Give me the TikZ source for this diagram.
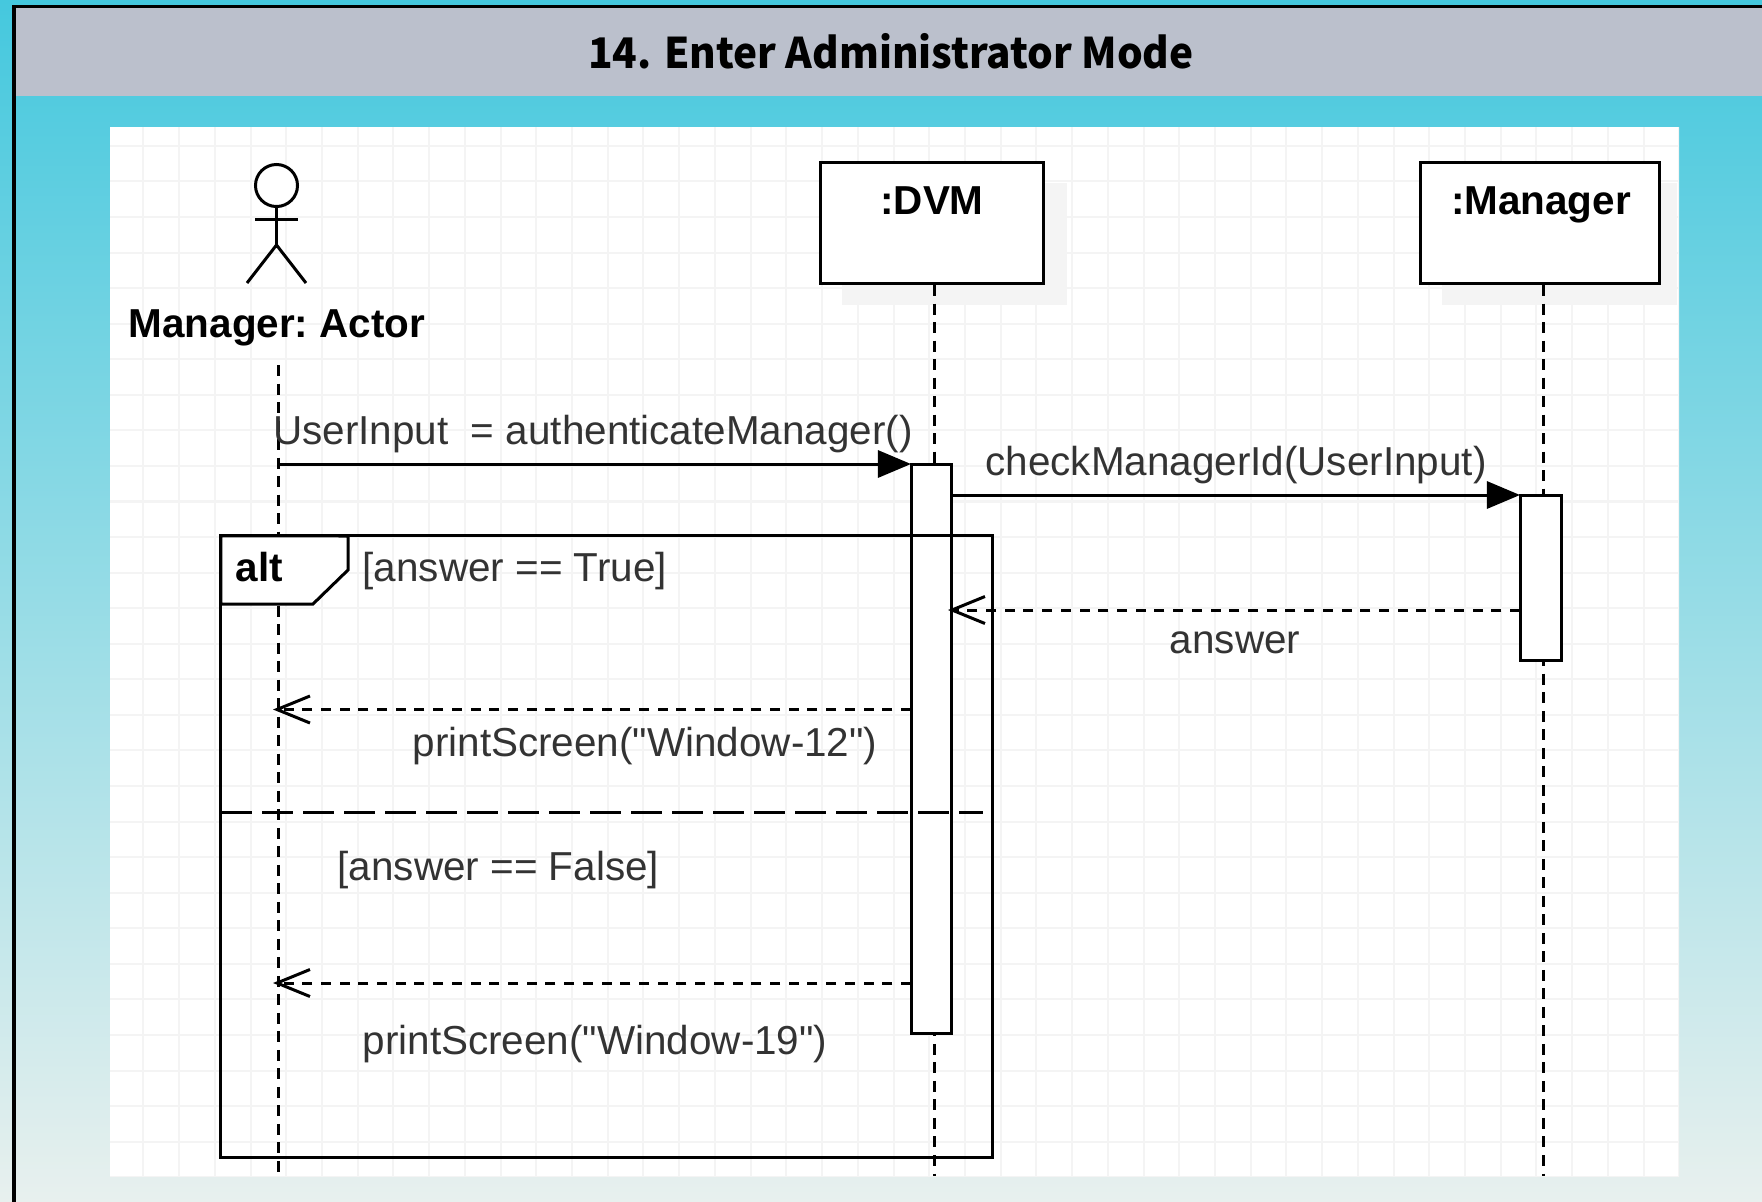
\documentclass[tikz,border=0pt]{standalone}
\usepackage{fontspec}
\setmainfont{Liberation Sans}[Ligatures=TeXOff]
\newfontfamily\titlefont[FakeStretch=0.96]{Noto Sans CJK KR}
\usetikzlibrary{arrows.meta}
\definecolor{headgray}{HTML}{BBC0CC}
\definecolor{gridgray}{HTML}{F4F4F4}
\definecolor{shadowgray}{HTML}{F4F4F4}
\definecolor{msgtext}{HTML}{333333}
\definecolor{backtop}{HTML}{45C8DE}
\definecolor{backend}{HTML}{E8F0EE}
\tikzset{
  lane/.style={line width=0.03cm, black, dash pattern=on 0.11cm off 0.075cm},
  box/.style={rectangle, draw=black, fill=white, line width=0.03cm, inner sep=0pt, outer sep=0pt},
  msg/.style={inner sep=0pt, text=msgtext, font=\fontsize{11.5}{13}\selectfont},
  boldtext/.style={inner sep=0pt, text=black, font=\fontsize{11.5}{13}\selectfont\bfseries},
  call/.style={line width=0.03cm, -{Triangle[length=0.33cm,width=0.27cm]}},
  reply/.style={line width=0.03cm, dash pattern=on 0.1cm off 0.087cm, -{Straight Barb[length=0.33cm,width=0.27cm,line width=0.03cm]}},
}
\begin{document}
\begin{tikzpicture}[x=0.01cm, y=-0.01cm]
  \useasboundingbox (0,0) rectangle (1762,1202);

  % Draw the background.
  \shade[top color=backtop, bottom color=backend] (0,0) rectangle (1762,1202);
  \fill[headgray] (14,7) rectangle (1762,96);
  \draw[line width=0.03cm, black] (14,1202) -- (14,6.5) -- (1762,6.5);
  \node[inner sep=0pt, font=\titlefont\fontsize{12}{15}\selectfont\bfseries] (title) at (891,51) {14. Enter Administrator Mode};

  % Draw the paper and its grid.
  \fill[white] (110,127) rectangle (1679,1176);
  \begin{scope}
    \clip (110,127) rectangle (1679,1176);
    \draw[gridgray, line width=0.02cm, xstep=0.357cm, ystep=0.3555cm, shift={(0.5,3.5)}] (100,100) grid (1700,1200);
  \end{scope}

  % Draw the shadows.
  \fill[shadowgray] (842,183) rectangle (1067,305);
  \fill[shadowgray] (1442,183) rectangle (1677,305);

  % Draw the heads of the lifelines.
  \node[box, minimum width=2.22cm, minimum height=1.2cm] (dvm) at (932,223) {};
  \node[box, minimum width=2.38cm, minimum height=1.2cm] (manager) at (1540,223) {};
  \node[boldtext] (dvm_name) at (932,201) {:DVM};
  \node[boldtext, anchor=base] (manager_name) at (1541,214) {:Manager};
  \node[boldtext, anchor=base] (actor_name) at (277,337.5) {Manager:\ Actor};

  % Draw the actor.
  \node[circle, draw=black, fill=white, line width=0.03cm, minimum size=0.42cm, inner sep=0pt] (head) at (276.5,185.5) {};
  \coordinate (hip) at (276.5,245);
  \coordinate (hand_l) at (255,219);
  \coordinate (hand_r) at (298,219);
  \coordinate (foot_l) at (247,283);
  \coordinate (foot_r) at (306,283);
  \draw[line width=0.03cm] (head) -- (hip);
  \draw[line width=0.03cm] (hand_l) -- (hand_r);
  \draw[line width=0.03cm] (foot_l) -- (hip) -- (foot_r);

  % Draw the lifelines.
  \coordinate (actor_top) at (278,365);
  \coordinate (actor_end) at (278,1176);
  \coordinate (dvm_top) at (934,285);
  \coordinate (dvm_end) at (934,1176);
  \coordinate (manager_top) at (1543,285);
  \coordinate (manager_end) at (1543,1176);
  \draw[lane] (actor_top) -- (actor_end);
  \draw[lane] (dvm_top) -- (dvm_end);
  \draw[lane] (manager_top) -- (manager_end);

  % Draw the activation bars.
  \node[box, minimum width=0.4cm, minimum height=5.68cm] (dvm_bar) at (931.5,749) {};
  \node[box, minimum width=0.4cm, minimum height=1.65cm] (manager_bar) at (1541,578) {};

  % Draw the alt frame.
  \node[rectangle, draw=black, line width=0.03cm, minimum width=7.71cm, minimum height=6.21cm, inner sep=0pt, outer sep=0pt] (frame) at (606.5,846.5) {};
  \draw[line width=0.03cm, fill=white] (frame.north west) -- (348,536) -- (348,570) -- (313,604) -- (221,604) -- cycle;
  \node[boldtext, anchor=west] (alt) at (235,567) {alt};
  \node[msg, anchor=west] (guard_true) at (362,571.5) {[answer == True]};
  \coordinate (split_l) at (221,812);
  \coordinate (split_r) at (983,812);
  \draw[line width=0.03cm, dash pattern=on 0.31cm off 0.1cm] (split_l) -- (split_r);
  \node[msg, anchor=west] (guard_false) at (337,870) {[answer == False]};

  % Draw the messages.
  \coordinate (m1_s) at (278,464);
  \coordinate (m1_e) at (911,464);
  \coordinate (m2_s) at (952,495);
  \coordinate (m2_e) at (1520,495);
  \coordinate (m3_s) at (1520,610);
  \coordinate (m3_e) at (948,610);
  \coordinate (m4_s) at (911,709.5);
  \coordinate (m4_e) at (273,709.5);
  \coordinate (m5_s) at (911,983);
  \coordinate (m5_e) at (273,983);
  \draw[call] (m1_s) -- (m1_e);
  \draw[call] (m2_s) -- (m2_e);
  \draw[reply] (m3_s) -- (m3_e);
  \draw[reply] (m4_s) -- (m4_e);
  \draw[reply] (m5_s) -- (m5_e);

  % Draw the labels.
  \node[msg] (m1_label) at (593,434.5) {UserInput~ = authenticateManager()};
  \node[msg] (m2_label) at (1236,465) {checkManagerId(UserInput)};
  \node[msg] (m3_label) at (1235,642.5) {answer};
  \node[msg] (m4_label) at (645,746) {printScreen("Window-12")};
  \node[msg] (m5_label) at (595,1044) {printScreen("Window-19")};
\end{tikzpicture}
\end{document}
